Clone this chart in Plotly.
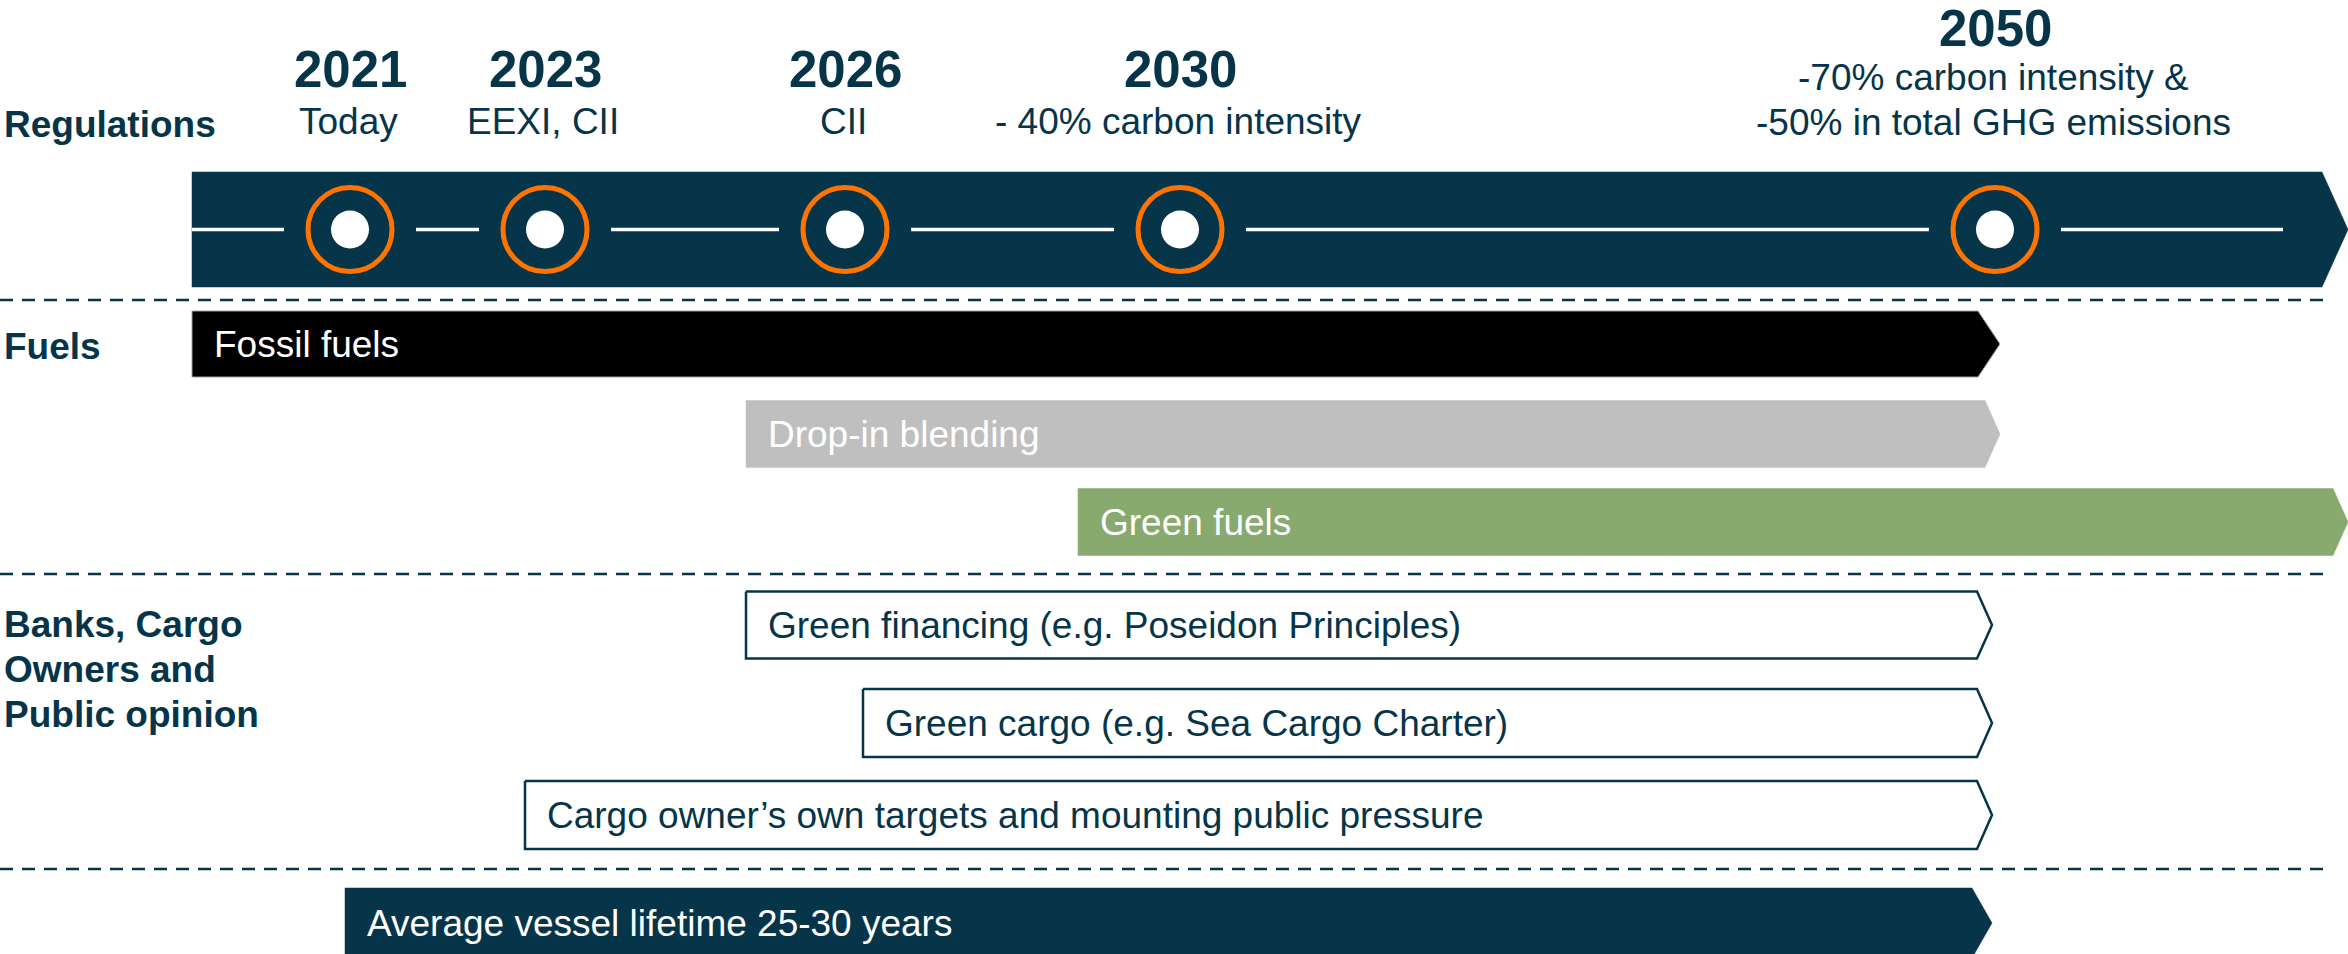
import plotly.graph_objects as go

# ---------------- data ----------------
milestone_years = ["2021", "2023", "2026", "2030", "2050"]
milestone_notes = ["Today", "EEXI, CII", "CII", "- 40% carbon intensity",
                   "-70% carbon intensity &<br>-50% in total GHG emissions"]
milestone_pos = [350, 545, 845, 1180, 1995]  # position along the timeline axis

section_labels = ["Regulations", "Fuels", "Banks, Cargo<br>Owners and<br>Public opinion"]

bar_labels = ["Fossil fuels", "Drop-in blending", "Green fuels",
              "Green financing (e.g. Poseidon Principles)",
              "Green cargo (e.g. Sea Cargo Charter)",
              "Cargo owner’s own targets and mounting public pressure",
              "Average vessel lifetime 25-30 years"]
bar_start = [192, 746, 1078, 746, 863, 525, 345]
bar_end = [2000, 2000, 2348, 1992, 1992, 1992, 1992]
bar_style = ["fossil", "blend", "green", "outline", "outline", "outline", "navy"]

timeline_start, timeline_end = 192, 2348

# ---------------- style / layout ----------------
W, H = 2348, 954
NAVY = "#06354A"
ORANGE = "#FF7300"
GREEN = "#88AA6E"
GRAY = "#BFBFBF"
FONT = "Liberation Sans, Arial, Helvetica, sans-serif"

ROW_Y = [344, 434, 522, 625, 723, 815, 923]
BAR_H = [66, 67, 67, 67, 68, 68, 70]
STYLES = {
    "fossil": dict(fill="#000000", line="#A0A0A0", lw=1, tip=22, text="white"),
    "blend": dict(fill=GRAY, line=GRAY, lw=0.5, tip=15, text="white"),
    "green": dict(fill=GREEN, line=GREEN, lw=0.5, tip=15, text="white"),
    "outline": dict(fill="white", line=NAVY, lw=2.5, tip=15, text=NAVY),
    "navy": dict(fill=NAVY, line=NAVY, lw=0.5, tip=20, text="white"),
}
BAND_TOP, BAND_BOT, BAND_TIP = 172, 287, 26
BAND_MID = (BAND_TOP + BAND_BOT) / 2
GAP = 66
SEP_Y = [300, 574, 869]
SEP_END = 2327
TEXT_PAD = 20

def mid_y(baseline, size):
    return baseline - 0.347 * size

fig = go.Figure()

# timeline band
x0, x1 = timeline_start, timeline_end
fig.add_trace(go.Scatter(
    x=[x0, x1 - BAND_TIP, x1, x1 - BAND_TIP, x0, x0],
    y=[BAND_TOP, BAND_TOP, BAND_MID, BAND_BOT, BAND_BOT, BAND_TOP],
    fill="toself", fillcolor=NAVY, line=dict(color=NAVY, width=0.5),
    mode="lines", hoverinfo="skip"))

# white line segments between milestones
seg_x, seg_y = [], []
pts = [timeline_start - GAP] + milestone_pos + [timeline_end - BAND_TIP - 39 + GAP]
for a, b in zip(pts[:-1], pts[1:]):
    seg_x += [a + GAP, b - GAP, None]
    seg_y += [BAND_MID, BAND_MID, None]
fig.add_trace(go.Scatter(x=seg_x, y=seg_y, mode="lines",
                         line=dict(color="white", width=3.5), hoverinfo="skip"))

# milestone circles
fig.add_trace(go.Scatter(
    x=milestone_pos, y=[BAND_MID] * len(milestone_pos), mode="markers",
    marker=dict(size=84, color=NAVY, line=dict(color=ORANGE, width=5)),
    hoverinfo="skip"))
fig.add_trace(go.Scatter(
    x=milestone_pos, y=[BAND_MID] * len(milestone_pos), mode="markers",
    marker=dict(size=38, color="white", line=dict(width=0)),
    hoverinfo="skip"))

# separators
for sy in SEP_Y:
    fig.add_trace(go.Scatter(x=[0, SEP_END], y=[sy, sy], mode="lines",
                             line=dict(color=NAVY, width=2.5, dash="13px,9px"),
                             hoverinfo="skip"))

annotations = []

# bars
for i, (lab, s, e, st) in enumerate(zip(bar_labels, bar_start, bar_end, bar_style)):
    sty = STYLES[st]
    cy = ROW_Y[i]
    h = BAR_H[i]
    top, bot = cy - h / 2, cy + h / 2
    fig.add_trace(go.Scatter(
        x=[s, e - sty["tip"], e, e - sty["tip"], s, s],
        y=[top, top, cy, bot, bot, top],
        fill="toself", fillcolor=sty["fill"],
        line=dict(color=sty["line"], width=sty["lw"]),
        mode="lines", hoverinfo="skip"))
    annotations.append(dict(x=s + TEXT_PAD, y=cy, text=lab, showarrow=False,
                            xanchor="left", yanchor="middle",
                            font=dict(family=FONT, size=37, color=sty["text"])))

# milestone texts
YEAR_BASE = [87, 87, 87, 87, 46]
NOTE_BASE = [134, 134, 134, 134, 90]
for yr, note, xp, yb, nb in zip(milestone_years, milestone_notes, milestone_pos, YEAR_BASE, NOTE_BASE):
    annotations.append(dict(x=xp, y=mid_y(yb, 51), text="<b>%s</b>" % yr, showarrow=False,
                            xanchor="center", yanchor="middle",
                            font=dict(family=FONT, size=51, color=NAVY)))
    for k, line in enumerate(note.split("<br>")):
        annotations.append(dict(x=xp - 2, y=mid_y(nb + 45 * k, 37), text=line, showarrow=False,
                                xanchor="center", yanchor="middle",
                                font=dict(family=FONT, size=37, color=NAVY)))

# section labels
SECTION_BASE = [137, 359, 637]
for lab, b in zip(section_labels, SECTION_BASE):
    for k, line in enumerate(lab.split("<br>")):
        annotations.append(dict(x=2, y=mid_y(b + 45 * k, 37), text="<b>%s</b>" % line,
                                showarrow=False, xanchor="left", yanchor="middle",
                                font=dict(family=FONT, size=37, color=NAVY)))

fig.update_layout(
    width=W, height=H, margin=dict(l=0, r=0, t=0, b=0),
    paper_bgcolor="white", plot_bgcolor="white", showlegend=False,
    xaxis=dict(range=[0, W], visible=False, fixedrange=True),
    yaxis=dict(range=[H, 0], visible=False, fixedrange=True),
    annotations=annotations,
)

fig.write_html("out.html")
